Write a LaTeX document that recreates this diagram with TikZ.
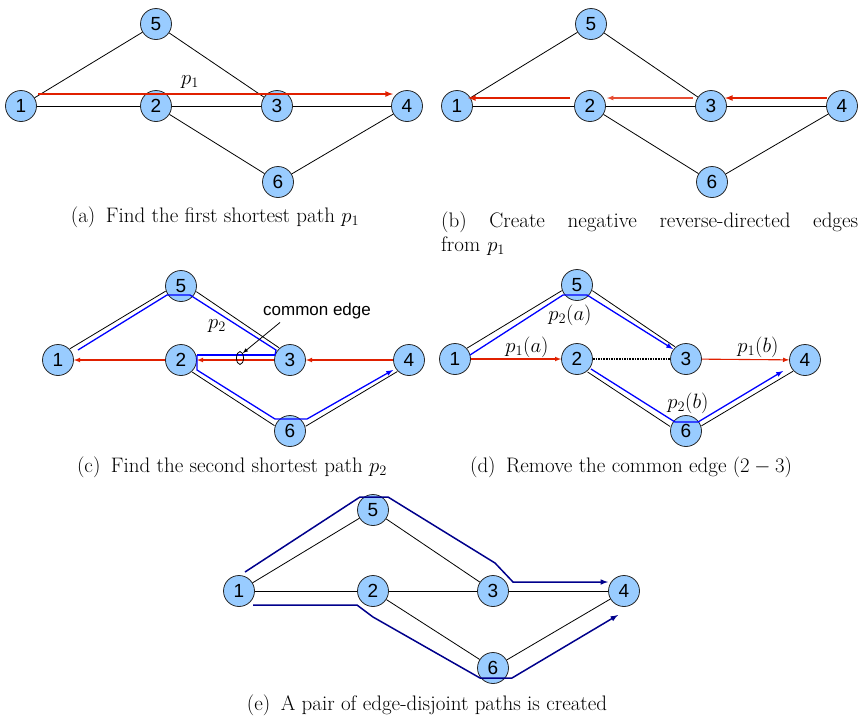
\documentclass[tikz,border=0pt]{standalone}
\usepackage{fontspec}
\setsansfont{Liberation Sans}
\usepackage{amsmath}
\usetikzlibrary{calc,shapes.geometric}
\definecolor{nodeblue}{RGB}{153,204,255}
\definecolor{pathred}{RGB}{224,32,0}
\definecolor{pathblue}{RGB}{0,0,255}
\definecolor{pathnavy}{RGB}{0,0,140}

\begin{document}
\begin{tikzpicture}[x=1pt,y=-1pt]

%
% Styles
%
\tikzstyle{vertex}   = [circle,draw=black!85,fill=nodeblue,line width=0.8pt,inner sep=0pt,minimum size=31pt,font=\sffamily\fontsize{19}{19}\selectfont]
\tikzstyle{edge}     = [line width=0.8pt,draw=black]
\tikzstyle{cut}      = [line width=1.6pt,densely dotted,draw=black]
\tikzstyle{redarrow} = [->,>=latex,line width=1.6pt,draw=pathred,color=pathred]
\tikzstyle{redthin}  = [->,>=latex,line width=1.1pt,draw=pathred,color=pathred]
\tikzstyle{bluepath} = [->,>=latex,line width=1.3pt,draw=pathblue,color=pathblue]
\tikzstyle{navypath} = [->,>=latex,line width=1.5pt,draw=pathnavy,color=pathnavy]
\tikzstyle{plabel}   = [font=\fontsize{21}{21}\selectfont]
\tikzstyle{caption}  = [font=\fontsize{21}{24}\selectfont,inner sep=0pt]

\useasboundingbox (0,0) rectangle (860,716);

%
% (a)
%
\node[vertex] (a1) at ( 21,106) {1};
\node[vertex] (a5) at (156, 24) {5};
\node[vertex] (a2) at (156,106) {2};
\node[vertex] (a3) at (277,106) {3};
\node[vertex] (a4) at (407,106) {4};
\node[vertex] (a6) at (278,182) {6};

\draw[edge] (a1) -- (a5);
\draw[edge] (a5) -- (a3);
\draw[edge] (a1) -- (a2);
\draw[edge] (a2) -- (a3);
\draw[edge] (a3) -- (a4);
\draw[edge] (a2) -- (a6);
\draw[edge] (a6) -- (a4);

\draw[redarrow] ($(a1)+(17,-12)$) -- ($(a4)+(-14,-12)$);
\node[plabel] (pa) at (190,82) {$p_1$};

\node[caption] (capa) at (215,217) {(a)\enspace Find the first shortest path $p_1$};

%
% (b)
%
\node[vertex] (b1) at (457,106) {1};
\node[vertex] (b5) at (591, 24) {5};
\node[vertex] (b2) at (590,106) {2};
\node[vertex] (b3) at (711,106) {3};
\node[vertex] (b4) at (842,106) {4};
\node[vertex] (b6) at (712,182) {6};

\draw[edge] (b1) -- (b5);
\draw[edge] (b5) -- (b3);
\draw[edge] (b1) -- (b2);
\draw[edge] (b2) -- (b3);
\draw[edge] (b3) -- (b4);
\draw[edge] (b2) -- (b6);
\draw[edge] (b6) -- (b4);

\draw[redarrow] ($(b4)+(-15,-8)$) -- ($(b3)+(14,-8)$);
\draw[redarrow,line width=1.2pt,draw=pathred!80] ($(b3)+(-18,-8)$) -- ($(b2)+(17,-8)$);
\draw[redarrow] ($(b2)+(-20,-8)$) -- ($(b1)+(11,-8)$);

\node[caption,anchor=west,text width=417pt,align=left] (capb) at (441,234)
  {(b)\hfill Create\hfill negative\hfill reverse-directed\hfill edges\\from $p_1$};

%
% (c)
%
\node[vertex] (c1) at ( 58,360) {1};
\node[vertex] (c5) at (181,286) {5};
\node[vertex] (c2) at (181,360) {2};
\node[vertex] (c3) at (290,360) {3};
\node[vertex] (c4) at (409,360) {4};
\node[vertex] (c6) at (290,431) {6};

\draw[edge,transform canvas={xshift=-1.8pt,yshift=3pt}]   (c1) -- (c5);
\draw[edge,transform canvas={xshift=2.2pt,yshift=3.3pt}]  (c5) -- (c3);
\draw[edge,transform canvas={xshift=-2.2pt,yshift=-3.3pt}] (c2) -- (c6);
\draw[edge,transform canvas={xshift=2pt,yshift=-3.4pt}]   (c6) -- (c4);

\draw[redthin] (c4) -- (c3);
\draw[redthin] (c3) -- (c2);
\draw[redthin] (c2) -- (c1);

\draw[bluepath,-] ($(c1)+(20,-10)$) -- ($(c5)+(-14,9)$) -- ($(c5)+(9,9)$)
  -- ($(c3)+(-14,-10)$) -- ($(c3)+(-15,-5)$);
\draw[bluepath,-,line width=2.2pt] ($(c3)+(-15,-5)$) -- ($(c2)+(16,-5)$);
\draw[bluepath] ($(c2)+(16,-5)$) -- ($(c2)+(16,10)$) -- ($(c6)+(-15,-12)$)
  -- ($(c6)+(17,-12)$) -- ($(c4)+(-16,10)$);

\node[draw,ellipse,line width=0.8pt,minimum width=7pt,minimum height=13pt,inner sep=0pt] (ce) at (240,358) {};
\node[font=\sffamily\fontsize{17}{17}\selectfont] (cel) at (317,311) {common edge};
\draw[->,>=latex,line width=0.8pt] ($(cel.south)+(-37,0)$) -- (ce.north east);
\node[plabel] (pc) at (217,326) {$p_2$};

\node[caption] (capc) at (232,467) {(c)\enspace Find the second shortest path $p_2$};

%
% (d)
%
\node[vertex] (d1) at (455,359) {1};
\node[vertex] (d5) at (577,285) {5};
\node[vertex] (d2) at (577,359) {2};
\node[vertex] (d3) at (686,359) {3};
\node[vertex] (d4) at (805,360) {4};
\node[vertex] (d6) at (686,431) {6};

\draw[edge,transform canvas={xshift=-1.6pt,yshift=2.6pt}]  (d1) -- (d5);
\draw[edge,transform canvas={xshift=2.2pt,yshift=3.3pt}]   (d5) -- (d3);
\draw[edge,transform canvas={xshift=-2.7pt,yshift=-4.2pt}] (d2) -- (d6);
\draw[edge,transform canvas={xshift=1.8pt,yshift=-3pt}]    (d6) -- (d4);
\draw[cut]  (d2) -- (d3);

\draw[redthin] (d1) -- (d2);
\draw[redthin] (d3) -- (d4);

\draw[bluepath] ($(d1)+(15,-4)$) -- ($(d5)+(-14,10)$) -- ($(d5)+(10,10)$) -- ($(d3)+(-13,-10)$);
\draw[bluepath] ($(d2)+(14,10)$) -- ($(d6)+(-11,-9)$) -- ($(d6)+(12,-9)$) -- ($(d4)+(-22,11)$);

\node[plabel] (pda) at (570,315) {$p_2(a)$};
\node[plabel] (pdb) at (527,347) {$p_1(a)$};
\node[plabel] (pdc) at (758,347) {$p_1(b)$};
\node[plabel] (pdd) at (688,403) {$p_2(b)$};

\node[caption] (capd) at (631,467) {(d)\enspace Remove the common edge $(2-3)$};

%
% (e)
%
\node[vertex] (e1) at (239,591) {1};
\node[vertex] (e5) at (373,510) {5};
\node[vertex] (e2) at (373,591) {2};
\node[vertex] (e3) at (493,591) {3};
\node[vertex] (e4) at (624,591) {4};
\node[vertex] (e6) at (493,668) {6};

\draw[edge] (e1) -- (e5);
\draw[edge] (e5) -- (e3);
\draw[edge] (e1) -- (e2);
\draw[edge] (e2) -- (e3);
\draw[edge] (e3) -- (e4);
\draw[edge] (e2) -- (e6);
\draw[edge] (e6) -- (e4);

\draw[navypath] ($(e1)+(6,-19)$) -- ($(e5)+(-13,-13)$) -- ($(e5)+(15,-13)$)
  -- ($(e3)+(2,-28)$) -- ($(e3)+(20,-9)$) -- ($(e4)+(-16,-9)$);
\draw[navypath] ($(e1)+(14,14)$) -- ($(e2)+(-16,14)$) -- ($(e2)+(0,26)$)
  -- ($(e6)+(-13,10)$) -- ($(e6)+(19,10)$) -- ($(e4)+(-6,24)$);

\node[caption] (cape) at (427,705) {(e)\enspace A pair of edge-disjoint paths is created};

\end{tikzpicture}
\end{document}
